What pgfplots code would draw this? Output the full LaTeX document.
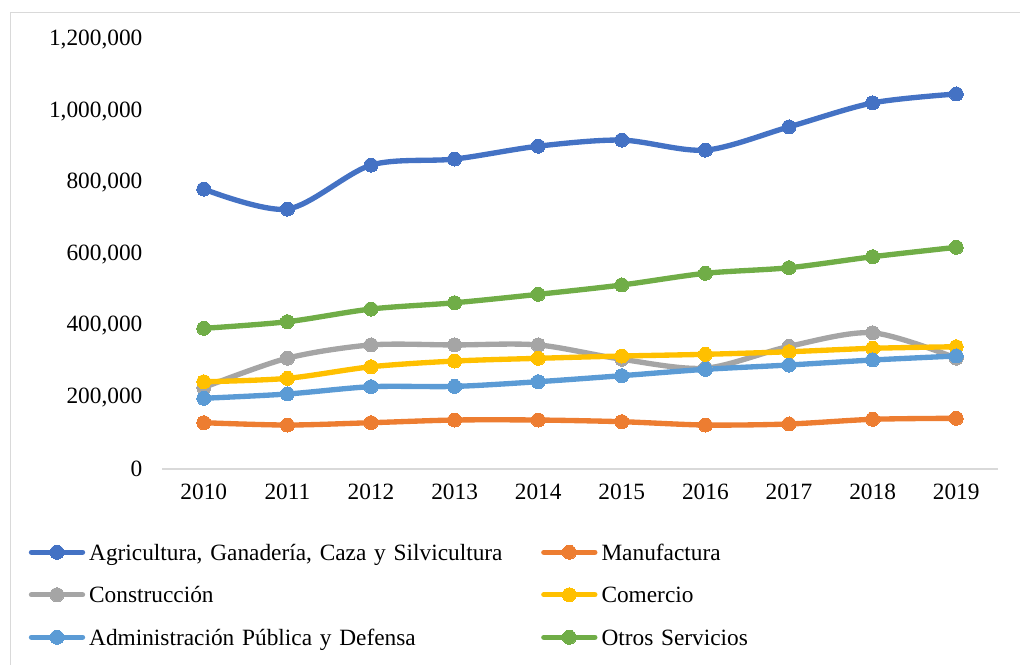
\documentclass[border=0pt]{standalone}
\usepackage{fontspec}
\setmainfont{Liberation Serif}
\usepackage{pgfplots}
\pgfplotsset{compat=1.18}
\definecolor{cAgri}{HTML}{4472C4}
\definecolor{cManu}{HTML}{ED7D31}
\definecolor{cCons}{HTML}{A5A5A5}
\definecolor{cCome}{HTML}{FFC000}
\definecolor{cAdmi}{HTML}{5B9BD5}
\definecolor{cOtro}{HTML}{70AD47}
\definecolor{frameg}{HTML}{D9D9D9}
\begin{document}
\begin{tikzpicture}
\path[use as bounding box] (0pt,0pt) rectangle (765pt,498pt);
\draw[frameg, line width=0.9pt] (7.9pt,-2pt) -- (7.9pt,488.6pt) -- (770pt,488.6pt);
\begin{axis}[
  at={(121.5pt,146.25pt)}, anchor=south west,
  scale only axis, width=627pt, height=321.75pt,
  xmin=2009.5, xmax=2019.5, ymin=0, ymax=1200000,
  clip=false,
  axis lines*=left,
  separate axis lines,
  x axis line style={draw=frameg, line width=1.5pt, -},
  y axis line style={draw=none},
  major tick length=0pt,
  xtick={2010,2011,2012,2013,2014,2015,2016,2017,2018,2019},
  xticklabels={2010,2011,2012,2013,2014,2015,2016,2017,2018,2019},
  ytick={0,200000,400000,600000,800000,1000000,1200000},
  yticklabels={{0},{200,000},{400,000},{600,000},{800,000},{1,000,000},{1,200,000}},
  scaled y ticks=false,
  ticklabel style={font=\fontsize{17.5}{21}\selectfont},
  xticklabel style={anchor=north, inner sep=0pt, yshift=-11.25pt},
  yticklabel style={anchor=east, inner sep=0pt, xshift=-14.5pt},
  every axis plot/.append style={line width=4pt, smooth, tension=0.5, line cap=round, line join=round, mark=*, mark size=5.25pt, mark options={solid, line width=0pt}},
  legend columns=2,
  legend cell align=left,
  legend image code/.code={\draw[#1, mark repeat=2, mark phase=2] plot coordinates {(0pt,0pt) (19.1pt,0pt) (38.25pt,0pt)};},
  legend style={at={(axis description cs:-0.1596,-0.1439)}, anchor=north west, draw=none, fill=none, inner sep=0pt, column sep=0pt, row sep=0pt,
    font=\fontsize{17.5}{21}\selectfont,
    nodes={inner xsep=3pt, inner ysep=0pt, text width=336pt, text height=21.94pt, text depth=9.94pt, align=left}},
]
\addplot[cAgri] coordinates {(2010,783000) (2011,727000) (2012,850000) (2013,867000) (2014,903000) (2015,920000) (2016,892000) (2017,957000) (2018,1024000) (2019,1049000)};
\addlegendentry{Agricultura, Ganadería, Caza y Silvicultura}
\addplot[cManu] coordinates {(2010,129500) (2011,123000) (2012,129500) (2013,137000) (2014,137000) (2015,132300) (2016,123000) (2017,125900) (2018,139000) (2019,141800)};
\addlegendentry{Manufactura}
\addplot[cCons] coordinates {(2010,228000) (2011,310000) (2012,347000) (2013,347000) (2014,347000) (2015,307000) (2016,282000) (2017,343000) (2018,381000) (2019,310000)};
\addlegendentry{Construcción}
\addplot[cCome] coordinates {(2010,244000) (2011,253600) (2012,286000) (2013,302000) (2014,309600) (2015,316000) (2016,320800) (2017,328000) (2018,337600) (2019,342000)};
\addlegendentry{Comercio}
\addplot[cAdmi] coordinates {(2010,197800) (2011,209800) (2012,230200) (2013,231000) (2014,244200) (2015,261000) (2016,278800) (2017,290900) (2018,304900) (2019,316100)};
\addlegendentry{Administración Pública y Defensa}
\addplot[cOtro] coordinates {(2010,393500) (2011,412000) (2012,447500) (2013,465000) (2014,488600) (2015,514700) (2016,547400) (2017,563000) (2018,593800) (2019,620100)};
\addlegendentry{Otros Servicios}
\end{axis}
\end{tikzpicture}
\end{document}
